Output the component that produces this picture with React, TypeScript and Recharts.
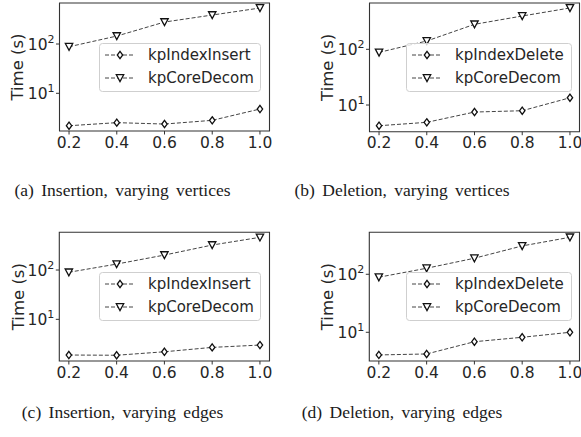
import React from 'react';
import { LineChart, Line, XAxis, YAxis, ReferenceArea, Legend } from 'recharts';

// ---------- data ----------
const xValues = [0.2, 0.4, 0.6, 0.8, 1.0];
const xTicks = [0.2, 0.4, 0.6, 0.8, 1.0];
const yTicks = [10, 100];

const insVertIndex = [2.2, 2.54, 2.38, 2.83, 4.8];
const insVertCore = [88, 145, 279, 387, 537];
const delVertIndex = [4.25, 4.89, 7.48, 7.9, 13.5];
const delVertCore = [88, 141, 281, 396, 552];
const insEdgeIndex = [1.89, 1.87, 2.2, 2.7, 3.01];
const insEdgeCore = [90, 132, 201, 321, 460];
const delEdgeIndex = [4.07, 4.23, 6.88, 8.2, 10.0];
const delEdgeCore = [89, 127, 189, 308, 434];

const nameInsert = 'kpIndexInsert';
const nameDelete = 'kpIndexDelete';
const nameCore = 'kpCoreDecom';
const yLabel = 'Time (s)';
const captions = [
  '(a) Insertion, varying vertices',
  '(b) Deletion, varying vertices',
  '(c) Insertion, varying edges',
  '(d) Deletion, varying edges',
];

// ---------- styles ----------
const FONT = 'DejaVu Sans';
const TEXT = '#262626';
const SPINE = '#333333';
const LINE = '#444444';
const DASH = '4 2';

const diamondPts = (cx: number, cy: number) =>
  `${cx},${cy - 3.6} ${cx + 2.7},${cy} ${cx},${cy + 3.6} ${cx - 2.7},${cy}`;
const triPts = (cx: number, cy: number) =>
  `${cx - 3.7},${cy - 3.3} ${cx + 3.7},${cy - 3.3} ${cx},${cy + 3.6}`;

const Diamond = ({ cx, cy }: { cx: number; cy: number }) => (
  <polygon points={diamondPts(cx, cy)} fill="#fff" stroke="#111" strokeWidth={1.3} />
);
const Tri = ({ cx, cy }: { cx: number; cy: number }) => (
  <polygon points={triPts(cx, cy)} fill="#fff" stroke="#111" strokeWidth={1.3} strokeLinejoin="miter" />
);

const renderDiamond = (p: any) =>
  p.cx == null ? <g key={`d-${p.index}`} /> : <Diamond key={`d-${p.index}`} cx={p.cx} cy={p.cy} />;
const renderTri = (p: any) =>
  p.cx == null ? <g key={`t-${p.index}`} /> : <Tri key={`t-${p.index}`} cx={p.cx} cy={p.cy} />;

const YTick = (props: any) => {
  const { x, y, payload } = props;
  const exp = Math.round(Math.log10(payload.value));
  return (
    <text x={x} y={y} textAnchor="end" fill={TEXT} fontFamily={FONT} fontSize={15.5} dy="0.36em">
      10
      <tspan fontSize={11} dy={-6.5}>{exp}</tspan>
    </text>
  );
};

type Box = { left: number; top: number; width: number; height: number };

const LegendBox = ({ box, indexName }: { box: Box; indexName: string }) => {
  const rows = [
    { name: indexName, y: 12, mk: 'd' },
    { name: nameCore, y: 35, mk: 't' },
  ];
  return (
    <svg width={box.width} height={box.height} style={{ display: 'block', overflow: 'visible' }}>
      <rect x={0.5} y={0.5} width={box.width - 1} height={box.height - 1} rx={3} ry={3}
        fill="#ffffff" fillOpacity={0.8} stroke="#cfcfcf" strokeWidth={1} />
      {rows.map((r) => (
        <g key={r.name}>
          <line x1={6} x2={36} y1={r.y} y2={r.y} stroke={LINE} strokeWidth={1} strokeDasharray={DASH} />
          {r.mk === 'd' ? <Diamond cx={21} cy={r.y} /> : <Tri cx={21} cy={r.y} />}
          <text x={49} y={r.y} dy="0.36em" fontFamily={FONT} fontSize={15} fill={TEXT}>{r.name}</text>
        </g>
      ))}
    </svg>
  );
};

type PanelProps = {
  left: number; top: number; width: number; height: number;
  mTop: number; mRight: number; yAxisWidth: number; xAxisHeight: number;
  domain: [number, number];
  index: number[]; core: number[]; indexName: string;
  labelX: number; legend: Box;
};

const Panel = (p: PanelProps) => {
  const data = xValues.map((x, i) => ({ x, idx: p.index[i], core: p.core[i] }));
  return (
    <div style={{ position: 'absolute', left: p.left, top: p.top, width: p.width, height: p.height }}>
      <LineChart width={p.width} height={p.height} data={data}
        margin={{ top: p.mTop, right: p.mRight, left: 0, bottom: 0 }}>
        <XAxis dataKey="x" type="number" domain={[0.16, 1.04]} ticks={xTicks} interval={0}
          allowDataOverflow tickFormatter={(v: number) => v.toFixed(1)}
          axisLine={false} tickLine={{ stroke: SPINE, strokeWidth: 1 }} tickSize={3.5} tickMargin={2}
          height={p.xAxisHeight}
          tick={{ fontSize: 15.5, fill: TEXT, fontFamily: FONT }} />
        <YAxis type="number" scale="log" domain={p.domain} allowDataOverflow ticks={yTicks} interval={0}
          width={p.yAxisWidth} axisLine={false} tickLine={{ stroke: SPINE, strokeWidth: 1 }}
          tickSize={3.5} tickMargin={1.5} tick={<YTick />}
          label={(lp: any) => {
            const vb = lp.viewBox || {};
            const cy = (vb.y ?? 0) + (vb.height ?? 0) / 2;
            return (
              <text x={p.labelX} y={cy} transform={`rotate(-90 ${p.labelX} ${cy})`} textAnchor="middle"
                dy="0.36em" fontFamily={FONT} fontSize={16.5} fill={TEXT}>{yLabel}</text>
            );
          }} />
        <ReferenceArea x1={0.16} x2={1.04} y1={p.domain[0]} y2={p.domain[1]} fill="none"
          stroke={SPINE} strokeWidth={1.1} ifOverflow="visible" />
        <Line dataKey="idx" type="linear" stroke={LINE} strokeWidth={1} strokeDasharray={DASH}
          dot={renderDiamond} activeDot={false} isAnimationActive={false} legendType="none" />
        <Line dataKey="core" type="linear" stroke={LINE} strokeWidth={1} strokeDasharray={DASH}
          dot={renderTri} activeDot={false} isAnimationActive={false} legendType="none" />
        <Legend verticalAlign="middle" align="center" layout="horizontal"
          wrapperStyle={{ position: 'absolute', left: p.legend.left, top: p.legend.top,
            width: p.legend.width, height: p.legend.height, margin: 0, padding: 0 }}
          content={() => <LegendBox box={p.legend} indexName={p.indexName} />} />
      </LineChart>
    </div>
  );
};

const captionPos = [
  { x: 122.5, y: 196 },
  { x: 402, y: 196 },
  { x: 122.5, y: 417.7 },
  { x: 402, y: 417.7 },
];

export default function App() {
  return (
    <div style={{ position: 'absolute', left: 0, top: 0, width: 581, height: 437, background: '#fff', overflow: 'hidden' }}>
      <Panel left={0} top={0} width={290} height={160} mTop={3} mRight={20.5} yAxisWidth={59.5} xAxisHeight={29}
        domain={[1.72, 679]} index={insVertIndex} core={insVertCore} indexName={nameInsert}
        labelX={17.5} legend={{ left: 99, top: 43, width: 162, height: 49 }} />
      <Panel left={290} top={0} width={291} height={160} mTop={3} mRight={1.5} yAxisWidth={79.5} xAxisHeight={28.3}
        domain={[3.32, 678]} index={delVertIndex} core={delVertCore} indexName={nameDelete}
        labelX={37} legend={{ left: 116, top: 43, width: 166, height: 49 }} />
      <Panel left={0} top={220} width={290} height={165} mTop={12.3} mRight={20.5} yAxisWidth={59.3} xAxisHeight={24}
        domain={[1.43, 582]} index={insEdgeIndex} core={insEdgeCore} indexName={nameInsert}
        labelX={17.8} legend={{ left: 99, top: 51.7, width: 162, height: 49 }} />
      <Panel left={290} top={220} width={291} height={165} mTop={12.3} mRight={1.5} yAxisWidth={79.3} xAxisHeight={24}
        domain={[3.2, 529]} index={delEdgeIndex} core={delEdgeCore} indexName={nameDelete}
        labelX={37} legend={{ left: 116, top: 51.7, width: 166, height: 49 }} />
      <svg width={581} height={437} style={{ position: 'absolute', left: 0, top: 0, pointerEvents: 'none' }}>
        {captions.map((c, i) => (
          <text key={c} x={captionPos[i].x} y={captionPos[i].y} textAnchor="middle"
            fontFamily="Liberation Serif" fontSize={17.5} fill="#1a1a1a" wordSpacing={3}>{c}</text>
        ))}
      </svg>
    </div>
  );
}
